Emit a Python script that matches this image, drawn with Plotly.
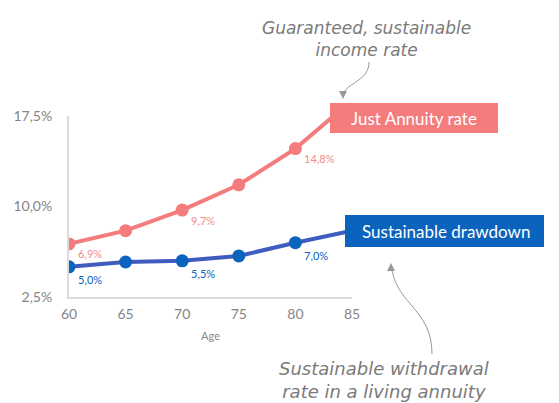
import plotly.graph_objects as go

# ---- data ----
ages = [60, 65, 70, 75, 80, 85]
annuity_rate = [6.9, 8.0, 9.7, 11.8, 14.8, 18.8]
drawdown_rate = [5.0, 5.4, 5.5, 5.9, 7.0, 8.0]
annuity_labels = ["6,9%", None, "9,7%", None, "14,8%", None]
drawdown_labels = ["5,0%", None, "5,5%", None, "7,0%", None]
y_tickvals = [2.5, 10.0, 17.5]
y_ticktext = ["2,5%", "10,0%", "17,5%"]
x_tickvals = [60, 65, 70, 75, 80, 85]

W, H = 559, 403
ML, MR, MT, MB = 69, 207, 116, 106
PW, PH = W - ML - MR, H - MT - MB

def px(x):
    return (x - ML) / PW

def py(y):
    return (H - MB - y) / PH

RED = "#f47c7c"
RED_TXT = "#f28b8b"
BLUE_LINE = "#3f5cbf"
BLUE = "#0a63bd"
GREY = "#858585"
HAND = "#7a7a7a"

fig = go.Figure()
fig.add_trace(go.Scatter(x=ages, y=annuity_rate, mode="lines+markers",
                         line=dict(color=RED, width=4),
                         marker=dict(color=RED, size=13), showlegend=False))
fig.add_trace(go.Scatter(x=ages, y=drawdown_rate, mode="lines+markers",
                         line=dict(color=BLUE_LINE, width=4),
                         marker=dict(color=BLUE, size=13), showlegend=False))

ann = []
for a, v, t in zip(ages, annuity_rate, annuity_labels):
    if t:
        ann.append(dict(x=a, y=v, text=t, showarrow=False, xanchor="left", yanchor="middle",
                        xshift=7, yshift=-10, font=dict(size=11, color=RED_TXT, family="Lato")))
for a, v, t in zip(ages, drawdown_rate, drawdown_labels):
    if t:
        ann.append(dict(x=a, y=v, text=t, showarrow=False, xanchor="left", yanchor="middle",
                        xshift=7, yshift=-13, font=dict(size=11, color=BLUE, family="Lato")))

# boxes
shapes = [
    dict(type="rect", xref="paper", yref="paper", x0=px(330), x1=px(498), y0=py(133), y1=py(103),
         fillcolor=RED, line=dict(width=0), layer="above"),
    dict(type="rect", xref="paper", yref="paper", x0=px(345), x1=px(544), y0=py(247), y1=py(215),
         fillcolor=BLUE, line=dict(width=0), layer="above"),
]
ann.append(dict(xref="paper", yref="paper", x=px(414), y=py(118), text="Just Annuity rate",
                xanchor="center", yanchor="middle",
                showarrow=False, font=dict(size=17, color="white", family="Lato")))
ann.append(dict(xref="paper", yref="paper", x=px(446), y=py(231), text="Sustainable drawdown",
                xanchor="center", yanchor="middle",
                showarrow=False, font=dict(size=17, color="white", family="Lato")))

# handwritten notes
ann.append(dict(xref="paper", yref="paper", x=px(366), y=py(39), xanchor="center", yanchor="middle",
                text="<i>Guaranteed, sustainable<br>income rate</i>", showarrow=False,
                font=dict(size=17, color=HAND, family="DejaVu Sans"), align="center"))
ann.append(dict(xref="paper", yref="paper", x=px(384), y=py(380), xanchor="center", yanchor="middle",
                text="<i>Sustainable withdrawal<br>rate in a living annuity</i>", showarrow=False,
                font=dict(size=18, color=HAND, family="DejaVu Sans"), align="center"))

def cpath(pts):
    p = [(px(x), py(y)) for x, y in pts]
    return (f"M {p[0][0]},{p[0][1]} C {p[1][0]},{p[1][1]} "
            f"{p[2][0]},{p[2][1]} {p[3][0]},{p[3][1]}")

def tri(tip, direction):
    x, y = tip
    if direction == "down":
        pts = [(x, y), (x - 4, y - 8), (x + 4, y - 8)]
    else:
        pts = [(x, y), (x - 4, y + 8), (x + 4, y + 8)]
    pp = [(px(a), py(b)) for a, b in pts]
    return f"M {pp[0][0]},{pp[0][1]} L {pp[1][0]},{pp[1][1]} L {pp[2][0]},{pp[2][1]} Z"

shapes += [
    dict(type="path", xref="paper", yref="paper",
         path=cpath([(369, 62), (369, 80), (350, 82), (344, 92)]),
         line=dict(color="#999999", width=1)),
    dict(type="path", xref="paper", yref="paper", path=tri((343, 99), "down"),
         fillcolor="#999999", line=dict(width=0)),
    dict(type="path", xref="paper", yref="paper",
         path=cpath([(432, 354), (432, 310), (398, 305), (392, 270)]),
         line=dict(color="#999999", width=1)),
    dict(type="path", xref="paper", yref="paper", path=tri((391, 263), "up"),
         fillcolor="#999999", line=dict(width=0)),
]

fig.update_layout(
    width=W, height=H, margin=dict(l=ML, r=MR, t=MT, b=MB),
    paper_bgcolor="white", plot_bgcolor="white",
    font=dict(family="Lato", color=GREY),
    annotations=ann, shapes=shapes,
    xaxis=dict(range=[60, 85], tickvals=x_tickvals, showgrid=False, zeroline=False,
               showline=True, linecolor="#dcdcdc", linewidth=2,
               ticks="outside", ticklen=3, tickcolor="rgba(0,0,0,0)",
               tickfont=dict(size=14, color=GREY),
               title=dict(text="Age", font=dict(size=11, color=GREY), standoff=12)),
    yaxis=dict(range=[2.5, 17.5], tickvals=y_tickvals, ticktext=y_ticktext, showgrid=False,
               zeroline=False, showline=True, linecolor="#dcdcdc", linewidth=2,
               ticks="outside", ticklen=12, tickcolor="rgba(0,0,0,0)",
               tickfont=dict(size=14, color=GREY)),
)

fig.write_html("out.html")
